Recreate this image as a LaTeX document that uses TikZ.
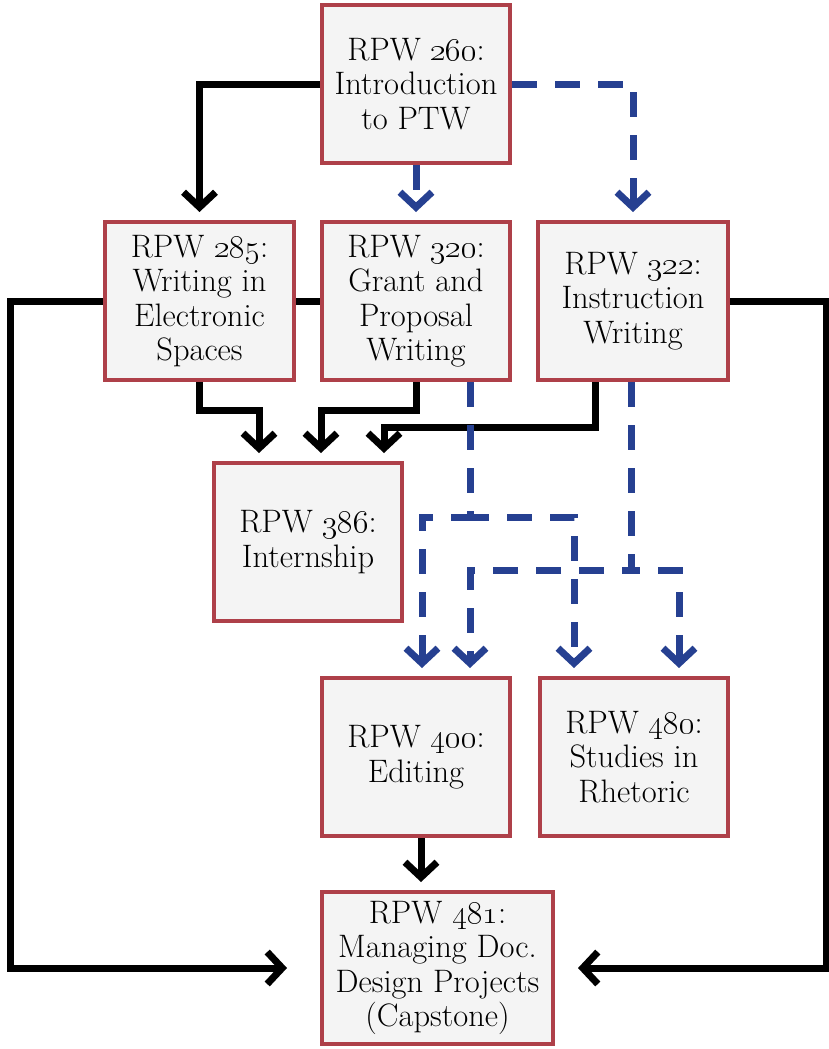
\documentclass[tikz,border=0pt]{standalone}
\usepackage{fix-cm}
\usetikzlibrary{arrows.meta,backgrounds,calc}
\definecolor{boxred}{HTML}{AE4049}
\definecolor{boxfill}{HTML}{F4F4F4}
\definecolor{lineblue}{HTML}{264091}
\newcommand{\osn}[1]{\oldstylenums{#1}}
\begin{document}
\begin{tikzpicture}[x=1pt,y=-1pt,
  course/.style={draw=boxred,fill=boxfill,line width=4pt,minimum width=188pt,minimum height=158pt,align=center,inner sep=0pt,font=\fontsize{32.5}{34.5}\selectfont},
  blk/.style={draw=black,line width=7pt,-{Straight Barb[length=15pt,width=32pt]},shorten >=8pt},
  blu/.style={draw=lineblue,line width=7pt,dash pattern=on 25pt off 18pt,-{Straight Barb[length=15pt,width=32pt]},shorten >=8pt},
]
\useasboundingbox (0,0) rectangle (829,1049);
\node[course] (n260) at (416,84) {RPW \osn{260}:\\Introduction\\to PTW};
\node[course,minimum width=189pt] (n285) at (199.5,301) {RPW \osn{285}:\\Writing in\\Electronic\\Spaces};
\node[course] (n320) at (416,301) {RPW \osn{320}:\\Grant and\\Proposal\\Writing};
\node[course,minimum width=190pt] (n322) at (633,301) {RPW \osn{322}:\\Instruction\\Writing};
\node[course] (n386) at (308,542) {RPW \osn{386}:\\Internship};
\node[course] (n400) at (416,757) {RPW \osn{400}:\\Editing};
\node[course] (n480) at (634,757) {RPW \osn{480}:\\Studies in\\Rhetoric};
\node[course,minimum width=231pt,minimum height=152pt] (n481) at (437.5,968) {RPW \osn{481}:\\Managing Doc.\\Design Projects\\(Capstone)};
\coordinate (L) at (10,0);
\coordinate (R) at (826,0);
\coordinate (ya) at (0,410);
\coordinate (yb) at (0,427);
\coordinate (yc) at (0,517);
\coordinate (yd) at (0,570);
\begin{scope}[on background layer]
\draw[blk] (n260.west) -| (n285.north);
\draw[blu] (n260.east) -| (n322.north);
\draw[blu] (n260.south) -- (n320.north);
\draw[blk,shorten >=33pt] (n320.west) -- (n320.west -| L) |- (n481.west);
\draw[blk,shorten >=23pt] (n322.east) -- (n322.east -| R) |- (n481.east);
\draw[blk] (n285.south) -- (n285.south |- ya) -| ([xshift=-49pt]n386.north);
\draw[blk] (n320.south) -- (n320.south |- ya) -| ([xshift=13pt]n386.north);
\draw[blk] ([xshift=-38pt]n322.south) -- ([xshift=-38pt]n322.south |- yb) -| ([xshift=76pt]n386.north);
\draw[blu] ([xshift=54pt]n320.south) -- ([xshift=54pt]n320.south |- yc) -| ([xshift=6pt]n400.north);
\draw[blu] ([xshift=54pt]n320.south) -- ([xshift=54pt]n320.south |- yc) -| ([xshift=-60pt]n480.north);
\draw[blu] ([xshift=-2pt]n322.south) -- ([xshift=-2pt]n322.south |- yd) -| ([xshift=54pt]n400.north);
\draw[blu] ([xshift=-2pt]n322.south) -- ([xshift=-2pt]n322.south |- yd) -| ([xshift=45pt]n480.north);
\draw[blk] ([xshift=5pt]n400.south) -- ([xshift=-16.5pt]n481.north);
\end{scope}
\end{tikzpicture}
\end{document}
